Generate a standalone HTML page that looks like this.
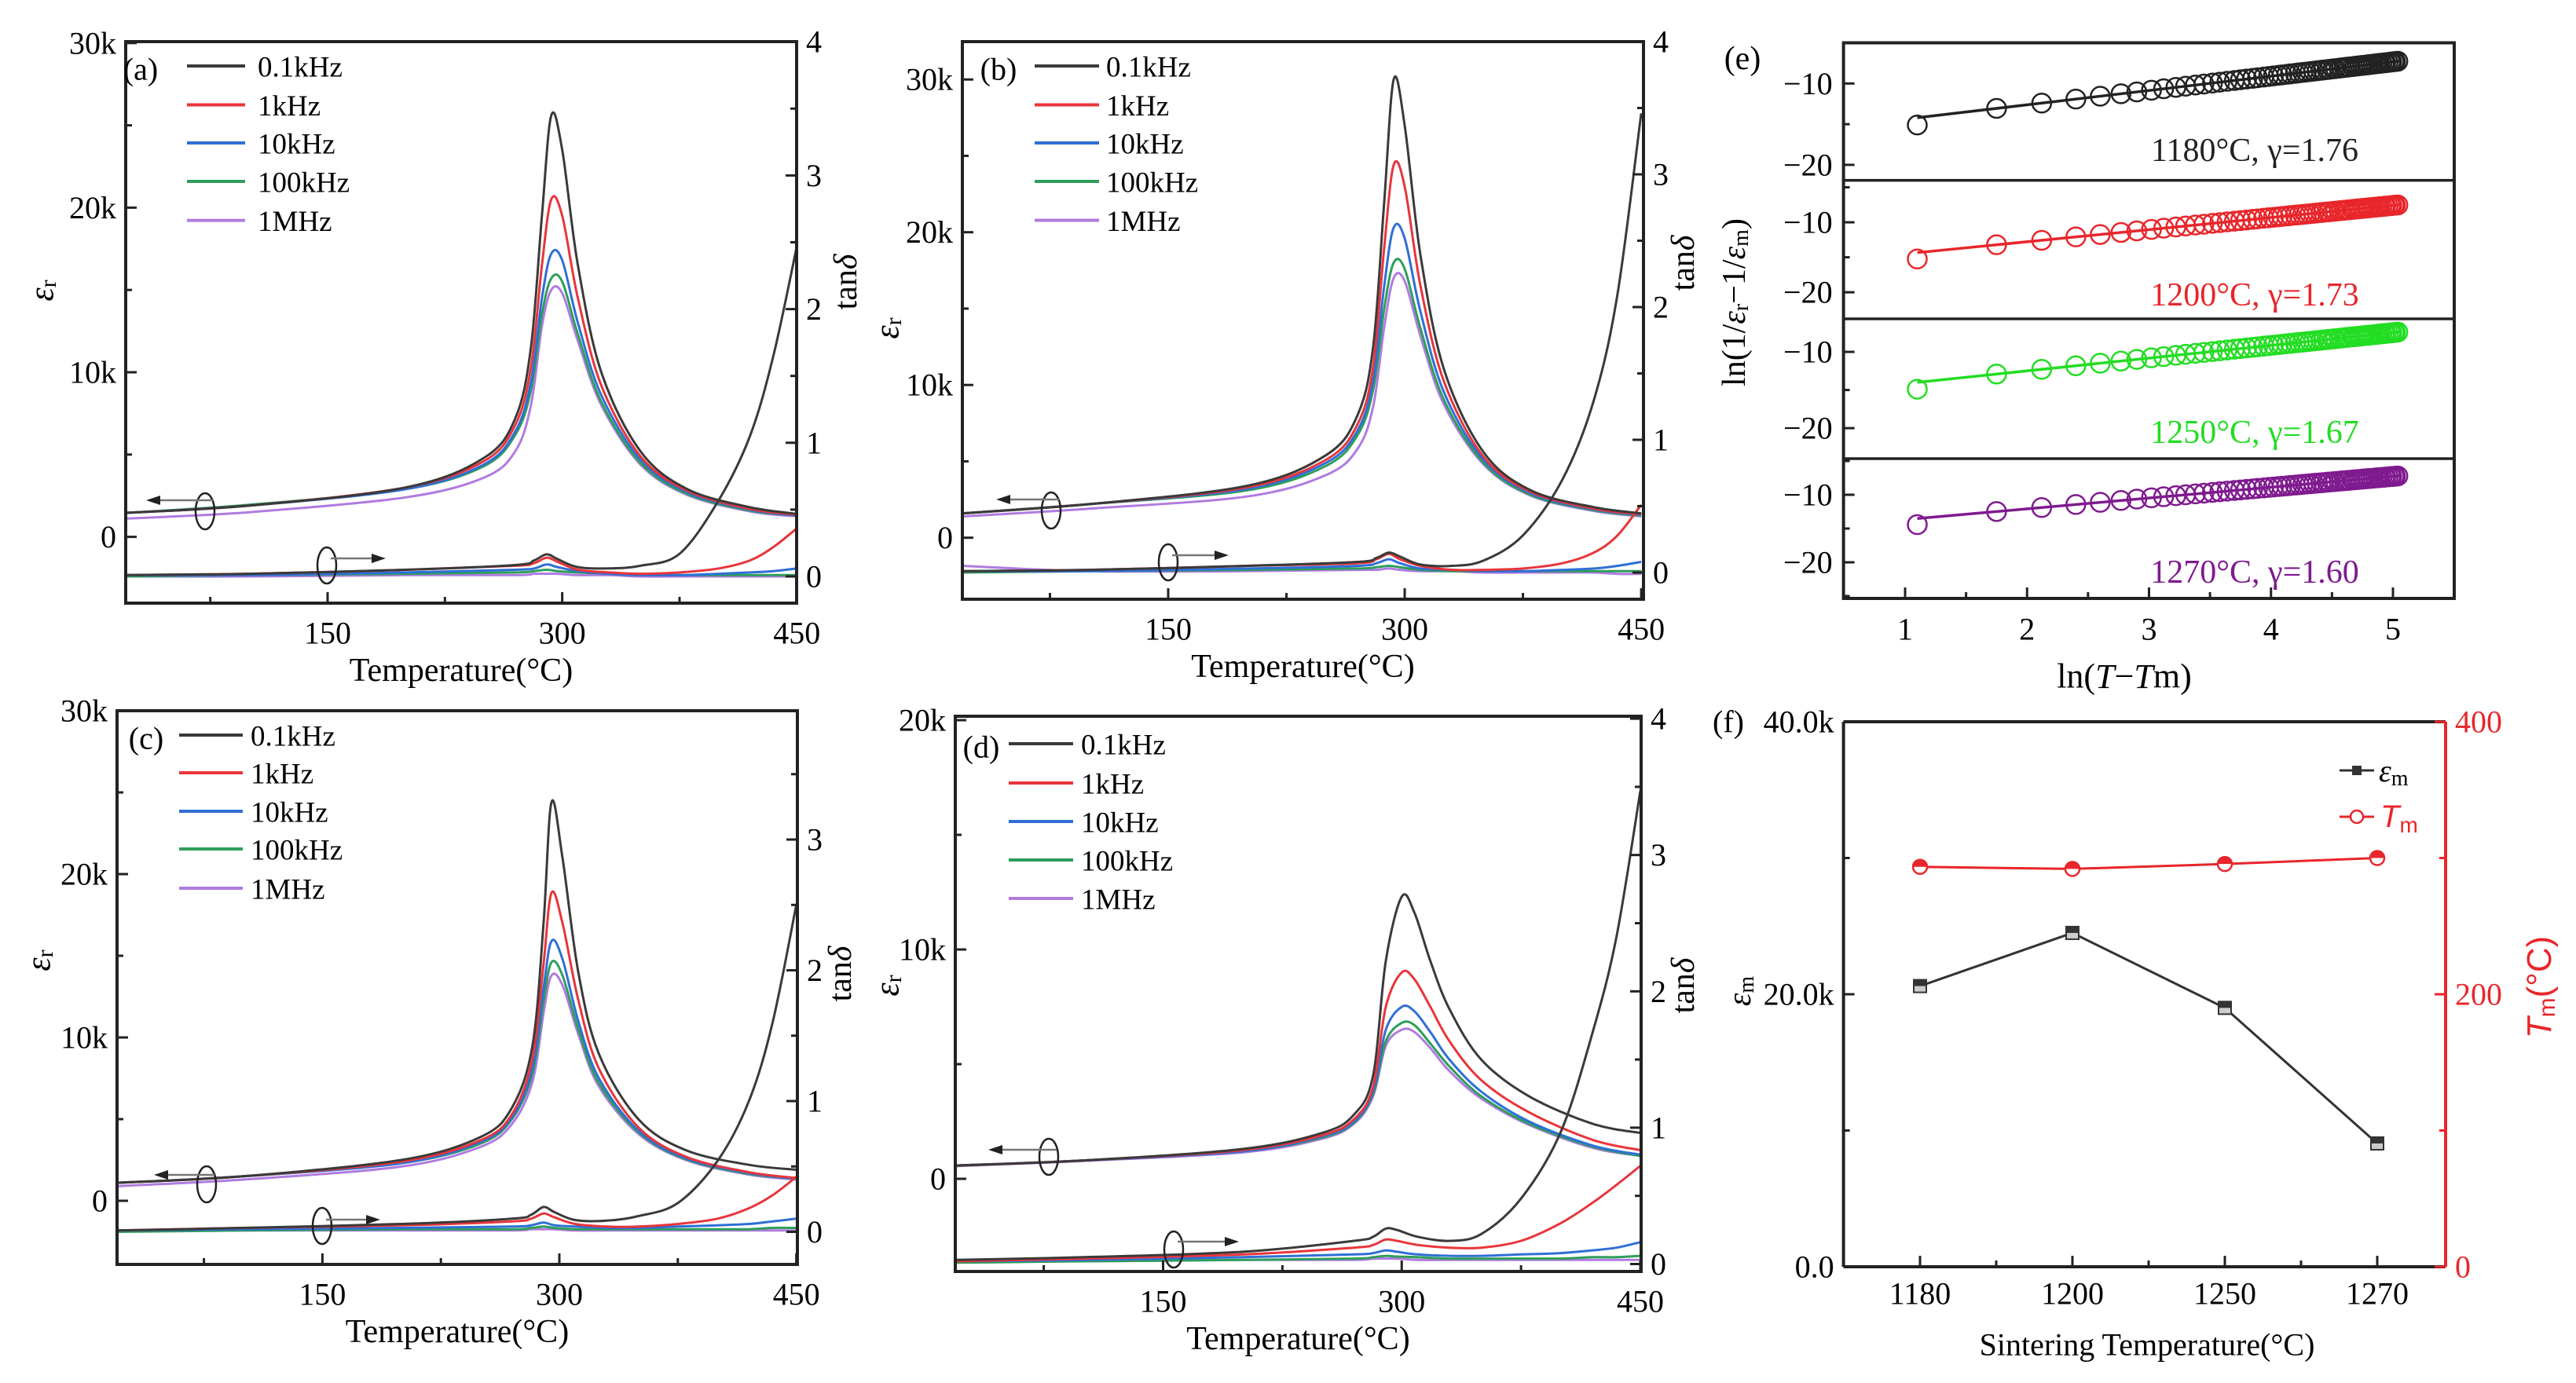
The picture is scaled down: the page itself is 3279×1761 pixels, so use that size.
<!DOCTYPE html>
<html><head><meta charset="utf-8"><style>
html,body{margin:0;padding:0;background:#fff}
svg{display:block;font-family:"Liberation Serif",serif}
</style></head><body>
<svg id="fig" xmlns="http://www.w3.org/2000/svg" width="3279" height="1761" viewBox="0 0 3279 1761"></svg>
<script>
// ---- data: panels a-d (eps in k, tan delta) ----
const freqLabels=["0.1kHz","1kHz","10kHz","100kHz","1MHz"];
const tempsA=[20,100,200,250,270,280,287,293,300,310,325,350,380,420,450];
const epsA=[[1.45,1.9,3.0,4.8,7.2,11.5,19.5,25.6,23.5,16.5,10,5.2,2.9,1.8,1.4],
[1.45,1.9,3.0,4.6,6.8,10.3,16.5,20.5,19.5,14.5,9.2,4.9,2.8,1.7,1.35],
[1.45,1.9,2.9,4.4,6.4,9.4,14.5,17.2,16.8,13,8.6,4.7,2.7,1.65,1.3],
[1.45,1.95,2.9,4.3,6.2,8.9,13.5,15.7,15.5,12.3,8.2,4.5,2.6,1.6,1.3],
[1.1,1.5,2.4,3.6,5.2,8.0,12.8,15.0,14.8,11.9,8.0,4.4,2.55,1.55,1.25]];
const tanTemps=[20,100,200,270,282,290,297,310,330,350,375,400,420,435,450];
const tanA=[[0.01,0.02,0.05,0.085,0.12,0.165,0.13,0.07,0.06,0.08,0.17,0.57,1.05,1.65,2.47],
[0.01,0.02,0.05,0.08,0.1,0.14,0.11,0.05,0.03,0.02,0.03,0.06,0.12,0.22,0.36],
[0.01,0.01,0.03,0.05,0.06,0.09,0.07,0.04,0.02,0.01,0.01,0.02,0.03,0.04,0.06],
[0,0.01,0.02,0.03,0.04,0.05,0.04,0.03,0.02,0.01,0.01,0.01,0.01,0.01,0.01],
[0,0,0.01,0.01,0.02,0.02,0.02,0.01,0.01,0,0,0,0,0,0]];
const tempsB=[20,100,200,250,270,280,287,293,300,310,325,350,380,420,450];
const epsB=[[1.6,2.2,3.4,5.4,8.0,12.5,22,30,27,18.5,11,5.6,3.1,2.0,1.6],
[1.6,2.2,3.3,5.1,7.4,11.2,19,24.4,23,16.5,10.2,5.3,3.0,1.9,1.55],
[1.6,2.2,3.2,4.9,7.0,10.3,16.5,20.3,19.6,14.8,9.5,5.1,2.9,1.85,1.5],
[1.6,2.2,3.1,4.7,6.7,9.7,15,18,17.6,13.7,9.0,4.9,2.8,1.8,1.45],
[1.4,1.9,2.7,4.1,5.8,8.6,13.8,17,16.8,13.2,8.7,4.8,2.75,1.75,1.4]];
const tanB=[[0.01,0.02,0.05,0.08,0.11,0.15,0.12,0.06,0.05,0.09,0.28,0.7,1.3,2.1,3.46],
[0.01,0.02,0.05,0.07,0.1,0.14,0.1,0.05,0.02,0.02,0.03,0.07,0.15,0.28,0.51],
[0.01,0.01,0.03,0.05,0.07,0.1,0.07,0.03,0.02,0.01,0.01,0.02,0.03,0.05,0.08],
[0,0.01,0.02,0.03,0.04,0.05,0.04,0.02,0.01,0.01,0.01,0.01,0.01,0.01,0.01],
[0.05,0.01,0.01,0.02,0.02,0.03,0.02,0.01,0.01,0,0,0,0,-0.01,-0.01]];
const tempsC=[20,100,200,250,270,283,290,295,302,312,325,350,380,420,450];
const epsC=[[1.1,1.5,2.5,3.9,5.7,9.5,17,24.4,21,14,9,5.0,3.1,2.2,1.9],
[1.1,1.5,2.4,3.7,5.3,8.7,14.5,18.85,17,12.3,8.1,4.5,2.7,1.75,1.4],
[1.1,1.5,2.3,3.6,5.1,8.1,13,15.9,14.8,11,7.5,4.3,2.6,1.7,1.35],
[1.1,1.5,2.3,3.5,5.0,7.8,12.2,14.6,13.8,10.5,7.2,4.2,2.55,1.65,1.35],
[0.9,1.3,2.1,3.3,4.7,7.3,11.5,13.8,13.2,10.2,7.0,4.1,2.5,1.6,1.3]];
const tanC=[[0.01,0.03,0.06,0.1,0.13,0.19,0.15,0.09,0.085,0.12,0.22,0.54,1.0,1.6,2.5],
[0.01,0.03,0.05,0.08,0.1,0.14,0.11,0.06,0.04,0.04,0.06,0.1,0.18,0.28,0.42],
[0.01,0.02,0.03,0.04,0.05,0.07,0.05,0.04,0.03,0.03,0.04,0.05,0.06,0.08,0.1],
[0,0.01,0.02,0.02,0.03,0.04,0.03,0.02,0.02,0.02,0.02,0.02,0.02,0.03,0.03],
[0.01,0.01,0.01,0.01,0.02,0.02,0.02,0.01,0.01,0.01,0.01,0.01,0.01,0.01,0.01]];
const tempsD=[20,100,200,250,270,282,290,300,308,318,330,350,380,420,450];
const epsD=[[0.58,0.8,1.3,2.0,2.8,4.5,9.5,12.3,11.6,9.5,7.4,5.2,3.6,2.4,2.0],
[0.58,0.8,1.25,1.9,2.6,4.0,7.5,9.0,8.7,7.5,6.0,4.3,2.9,1.7,1.25],
[0.58,0.8,1.2,1.85,2.5,3.8,6.5,7.5,7.3,6.4,5.2,3.8,2.5,1.45,1.05],
[0.58,0.8,1.2,1.8,2.45,3.7,6.0,6.8,6.7,5.9,4.9,3.6,2.4,1.4,1.0],
[0.55,0.78,1.15,1.75,2.4,3.6,5.8,6.5,6.4,5.7,4.7,3.5,2.35,1.35,1.0]];
const tanD=[[0.03,0.05,0.09,0.17,0.2,0.26,0.25,0.2,0.17,0.22,0.48,0.97,1.7,2.4,3.47],
[0.02,0.04,0.07,0.12,0.14,0.18,0.17,0.14,0.12,0.12,0.17,0.3,0.45,0.58,0.72],
[0.02,0.03,0.05,0.07,0.08,0.1,0.09,0.07,0.06,0.06,0.07,0.08,0.1,0.12,0.16],
[0.01,0.02,0.03,0.04,0.05,0.06,0.055,0.05,0.04,0.04,0.04,0.04,0.05,0.05,0.06],
[0.02,0.02,0.03,0.03,0.04,0.04,0.04,0.03,0.03,0.03,0.03,0.03,0.03,0.03,0.03]];
// ---- panel e ----
const lnX=[1.10,1.75,2.12,2.40,2.60,2.77,2.90,3.02,3.12,3.22,3.30,3.38,3.45,3.52,3.58,3.64,3.70,3.75,3.80,3.85,3.89,3.94,3.98,4.02,4.06,4.09,4.13,4.16,4.20,4.23,4.26,4.29,4.32,4.35,4.38,4.41,4.43,4.46,4.48,4.51,4.53,4.56,4.58,4.60,4.62,4.64,4.67,4.69,4.71,4.73,4.75,4.77,4.79,4.80,4.82,4.84,4.86,4.88,4.89,4.91,4.93,4.94,4.96,4.98,4.99,5.01,5.02,5.04];
const sinterLabels=["1180°C, γ=1.76","1200°C, γ=1.73","1250°C, γ=1.67","1270°C, γ=1.60"];
const gammas=[1.76,1.73,1.67,1.60];
const intercepts=[-16.14,-16.24,-15.83,-15.28];
// ---- panel f ----
const sinterCats=["1180","1200","1250","1270"];
const epsM=[20.6,24.5,19.0,9.05];
const tM=[293.5,292,295.6,300];

const svg=document.getElementById('fig');
const NS='http://www.w3.org/2000/svg';
function mk(tag,attrs,parent){const e=document.createElementNS(NS,tag);for(const k in attrs)e.setAttribute(k,attrs[k]);(parent||svg).appendChild(e);return e;}
function txt(s,x,y,size,attrs,parent){const e=mk('text',Object.assign({x:x,y:y,'font-size':size,'dominant-baseline':'central'},attrs||{}),parent);e.textContent=s;return e;}
function smooth(pts){let d='M'+pts[0][0].toFixed(1)+','+pts[0][1].toFixed(1);for(let i=0;i<pts.length-1;i++){const p0=pts[Math.max(0,i-1)],p1=pts[i],p2=pts[i+1],p3=pts[Math.min(pts.length-1,i+2)];const c1=[p1[0]+(p2[0]-p0[0])/6,p1[1]+(p2[1]-p0[1])/6],c2=[p2[0]-(p3[0]-p1[0])/6,p2[1]-(p3[1]-p1[1])/6];d+='C'+c1[0].toFixed(1)+','+c1[1].toFixed(1)+' '+c2[0].toFixed(1)+','+c2[1].toFixed(1)+' '+p2[0].toFixed(1)+','+p2[1].toFixed(1);}return d;}
const colors=['#3a3a3a','#e8353b','#2f6fd6','#2e9e5a','#b07be0'];

function panel(c){
  const g=mk('g',{});
  
  
  const X=t=>c.x150+(t-150)*c.xs, YL=v=>c.y0+v*c.ys*-1, YR=v=>c.r0-v*c.rs;
  const clip=mk('clipPath',{id:'clip'+c.id},g);mk('rect',{x:c.L,y:c.T,width:c.R-c.L,height:c.B-c.T},clip);
  const cg=mk('g',{'clip-path':'url(#clip'+c.id+')'},g);
  for(let s=4;s>=0;s--){
    const p=mk('path',{d:smooth(c.temps.map((t,i)=>[X(t),YL(c.eps[s][i])])),fill:'none',stroke:colors[s],'stroke-width':3},cg);
    
    
    const q=mk('path',{d:smooth(tanTemps.map((t,i)=>[X(t),YR(c.tan[s][i])])),fill:'none',stroke:colors[s],'stroke-width':3},cg);
    
    
  }
  const fr=mk('rect',{x:c.L,y:c.T,width:c.R-c.L,height:c.B-c.T,fill:'none',stroke:'#222','stroke-width':4},g);
  
  
  [75,150,225,300,375,450].forEach(t=>{const maj=t%150==0;mk('line',{x1:X(t),x2:X(t),y1:c.B,y2:c.B-(maj?14:8),stroke:'#222','stroke-width':3},g);
    if(maj){const l=txt(String(t),X(t),c.B+38,40,{'text-anchor':'middle'},g);}});
  for(let v=c.lmin;v<=c.lmax;v+=5){const y=YL(v);if(y<c.T-1||y>c.B+1)continue;const maj=v%10==0;mk('line',{x1:c.L,x2:c.L+(maj?14:8),y1:y,y2:y,stroke:'#222','stroke-width':3},g);
    if(maj){const l=txt(v==0?'0':v+'k',c.L-12,y,40,{'text-anchor':'end'},g);}}
  for(let v=0;v<=8;v++){const val=v/2,y=YR(val);if(y<c.T-1)continue;const maj=v%2==0;mk('line',{x1:c.R,x2:c.R-(maj?14:8),y1:y,y2:y,stroke:'#222','stroke-width':3},g);
    if(maj){const l=txt(String(val),c.R+12,y,40,{'text-anchor':'start'},g);}}
  const xt=txt('Temperature(°C)',(c.L+c.R)/2,c.B+86,42,{'text-anchor':'middle'},g);
  
  const el=mk('text',{x:c.ex,y:c.ey,'font-size':44,'font-style':'italic','text-anchor':'middle','dominant-baseline':'central',transform:'rotate(-90 '+c.ex+' '+c.ey+')'},g);
  el.innerHTML='ε<tspan font-size="30" dy="8" font-style="normal">r</tspan>';
  
  const tl=mk('text',{x:c.tx,y:c.ty,'font-size':42,'text-anchor':'middle','dominant-baseline':'central',transform:'rotate(-90 '+c.tx+' '+c.ty+')'},g);
  tl.innerHTML='tan<tspan font-style="italic">δ</tspan>';
  
  const lab=txt('('+c.id+')',c.lgLab,c.lgRows[0]+4,40,{'text-anchor':'middle'},g);
  
  freqLabels.forEach((f,i)=>{const lg=mk('g',{},g);
    mk('line',{x1:c.lg1,x2:c.lg2,y1:c.lgRows[i],y2:c.lgRows[i],stroke:colors[i],'stroke-width':4},lg);txt(f,c.lgT,c.lgRows[i]+2,37,{},lg);});
  [[c.e1,-1],[c.e2,1]].forEach(([e,dir])=>{const a=mk('g',{},g);
    mk('ellipse',{cx:e[0],cy:e[1],rx:12,ry:23,fill:'none',stroke:'#222','stroke-width':2.5},a);
    mk('line',{x1:e[0]+(dir<0?10:5),x2:e[2]-dir*14,y1:e[3],y2:e[3],stroke:'#777','stroke-width':2.5},a);
    mk('polygon',{points:[e[2],e[3],e[2]-dir*18,e[3]-6,e[2]-dir*18,e[3]+6].join(','),fill:'#222'},a);});
}
panel({id:'a',L:160,R:1014,T:53,B:768,x150:417,xs:1.991,y0:683.6,ys:20.96,r0:734,rs:170.2,lmin:-5,lmax:30,temps:tempsA,eps:epsA,tan:tanA,
  ex:53,ey:370,tx:1077,ty:359,lgLab:179,lg1:238,lg2:312,lgT:328,lgRows:[84,133.5,182,231,280.6],e1:[261,651,186,637],e2:[416,720,491,711]});
panel({id:'b',L:1225,R:2092,T:53,B:763,x150:1487,xs:2.007,y0:684.7,ys:19.45,r0:729,rs:169,lmin:-5,lmax:30,temps:tempsB,eps:epsB,tan:tanB,
  ex:1129,ey:418,tx:2143,ty:335,lgLab:1271,lg1:1317,lg2:1399,lgT:1408,lgRows:[84,133.5,182,231,280.5],e1:[1338,650,1268,636],e2:[1487,716,1564,707]});
panel({id:'c',L:149,R:1015,T:905,B:1610,x150:410.4,xs:2.0107,y0:1529,ys:20.8,r0:1568.5,rs:166.5,lmin:-5,lmax:30,temps:tempsC,eps:epsC,tan:tanC,
  ex:49,ey:1223,tx:1070,ty:1240,lgLab:186,lg1:228,lg2:309,lgT:319,lgRows:[936,984,1033,1081,1131],e1:[263,1508,196,1496],e2:[410,1561,484,1553]});
panel({id:'d',L:1216,R:2089,T:912,B:1619,x150:1480.5,xs:2.025,y0:1501,ys:29.2,r0:1609.5,rs:173.6,lmin:0,lmax:20,temps:tempsD,eps:epsD,tan:tanD,
  ex:1129,ey:1255,tx:2143,ty:1255,lgLab:1249,lg1:1284,lg2:1366,lgT:1376,lgRows:[947,997,1046,1095,1144],e1:[1335,1473,1258,1464],e2:[1494,1591,1577,1581]});

// ---- panel e ----
(function(){
  const L=2346.6,R=3124,T=54.5,B=762;
  const subs=[[54.5,229.6,-5.0,-21.9],[229.6,406,-4.0,-23.8],[406,584,-5.67,-24.0],[584,762,-4.65,-25.35]];
  const ecol=['#222','#e8262b','#22dd22','#7f1a8f'];
  const X=v=>2425+(v-1)*155.25;
  const g=mk('g',{});
  subs.forEach((s,k)=>{const Y=v=>s[0]+(s[2]-v)/(s[2]-s[3])*(s[1]-s[0]);
    const sg=mk('g',{},g);
    const fl=mk('line',{x1:X(1.1),x2:X(5.05),y1:Y(gammas[k]*1.1+intercepts[k]),y2:Y(gammas[k]*5.05+intercepts[k]),stroke:ecol[k],'stroke-width':3.5},sg);
    
    lnX.forEach((x,i)=>{const yv=gammas[k]*x+intercepts[k]-(i==0?0.9:0);const c=mk('circle',{cx:X(x),cy:Y(yv),r:12,fill:'none',stroke:ecol[k],'stroke-width':2.5},sg);
      });
    [-5,-10,-15,-20,-25].forEach(v=>{const y=Y(v);if(y<s[0]+2||y>s[1]-2)return;const maj=v%10==0;mk('line',{x1:L,x2:L+(maj?14:8),y1:y,y2:y,stroke:'#222','stroke-width':3},sg);
      if(maj){const l=txt('−'+(-v),L-14,y,40,{'text-anchor':'end'},sg);}});
    const lb=txt(sinterLabels[k],2870,[192,376,551,729][k],42,{'text-anchor':'middle',fill:ecol[k]},sg);
    
    if(k>0)mk('line',{x1:L,x2:R,y1:s[0],y2:s[0],stroke:'#222','stroke-width':3.5},sg);
  });
  mk('rect',{x:L,y:T,width:R-L,height:B-T,fill:'none',stroke:'#222','stroke-width':4},g);
  for(let v=1;v<=5;v+=0.5){const maj=v%1==0;mk('line',{x1:X(v),x2:X(v),y1:B,y2:B-(maj?14:8),stroke:'#222','stroke-width':3},g);
    if(maj){const l=txt(String(v),X(v),801,40,{'text-anchor':'middle'},g);}}
  const xt=mk('text',{x:2704,y:861,'font-size':44,'text-anchor':'middle','dominant-baseline':'central'},g);
  xt.innerHTML='ln(<tspan font-style="italic">T</tspan>−<tspan font-style="italic">T</tspan>m)';
  
  const yt=mk('text',{x:2208,y:385,'font-size':42,'text-anchor':'middle','dominant-baseline':'central',transform:'rotate(-90 2208 385)'},g);
  yt.innerHTML='ln(1/<tspan font-style="italic">ε</tspan><tspan font-size="28" dy="8">r</tspan><tspan dy="-8">−1/</tspan><tspan font-style="italic">ε</tspan><tspan font-size="28" dy="8">m</tspan><tspan dy="-8">)</tspan>';
  
  const pl=txt('(e)',2218,75,42,{'text-anchor':'middle'},g);
})();

// ---- panel f ----
(function(){
  const L=2346.6,R=3113,T=919,B=1613,red='#e8262b';
  const X=i=>2444+i*194, YL=v=>B-v/40*(B-T), YR=v=>B-v/400*(B-T);
  const g=mk('g',{});
  mk('line',{x1:L,x2:R,y1:T,y2:T,stroke:'#222','stroke-width':4},g);
  mk('line',{x1:L,x2:R,y1:B,y2:B,stroke:'#222','stroke-width':4},g);
  mk('line',{x1:L,x2:L,y1:T,y2:B,stroke:'#222','stroke-width':4},g);
  mk('line',{x1:R,x2:R,y1:T,y2:B,stroke:red,'stroke-width':4},g);
  for(let i=0;i<4;i++){mk('line',{x1:X(i),x2:X(i),y1:B,y2:B-14,stroke:'#222','stroke-width':3},g);
    if(i<3)mk('line',{x1:X(i+0.5),x2:X(i+0.5),y1:B,y2:B-8,stroke:'#222','stroke-width':3},g);
    const l=txt(sinterCats[i],X(i),1647,40,{'text-anchor':'middle'},g);}
  [0,10,20,30,40].forEach(v=>{const maj=v%20==0;mk('line',{x1:L,x2:L+(maj?14:8),y1:YL(v),y2:YL(v),stroke:'#222','stroke-width':3},g);
    if(maj){const l=txt(v==0?'0.0':v.toFixed(1)+'k',L-12,YL(v),40,{'text-anchor':'end'},g);}});
  [0,100,200,300,400].forEach(v=>{const maj=v%200==0;mk('line',{x1:R,x2:R-(maj?14:8),y1:YR(v),y2:YR(v),stroke:red,'stroke-width':3},g);
    if(maj){const l=txt(String(v),R+12,YR(v),40,{'text-anchor':'start',fill:red},g);}});
  const le=mk('polyline',{points:epsM.map((v,i)=>X(i)+','+YL(v)).join(' '),fill:'none',stroke:'#333','stroke-width':3},g);
  
  epsM.forEach((v,i)=>{const m=mk('rect',{x:X(i)-8,y:YL(v)-8,width:16,height:16,fill:'#ccc',stroke:'#333','stroke-width':2},g);
    mk('rect',{x:X(i)-7,y:YL(v)-8,width:14,height:8,fill:'#333'},g);});
  const lt=mk('polyline',{points:tM.map((v,i)=>X(i)+','+YR(v)).join(' '),fill:'none',stroke:red,'stroke-width':3},g);
  
  tM.forEach((v,i)=>{const m=mk('circle',{cx:X(i),cy:YR(v),r:9,fill:'#fff',stroke:red,'stroke-width':2.5},g);
    mk('path',{d:'M'+(X(i)-9)+','+YR(v)+' a9,9 0 0 1 18,0z',fill:red},g);});
  const l1=mk('g',{},g);
  mk('line',{x1:2978,x2:3022,y1:981,y2:981,stroke:'#333','stroke-width':3},l1);mk('rect',{x:2994,y:975,width:12,height:12,fill:'#333'},l1);
  const t1=mk('text',{x:3028,y:981,'font-size':40,'dominant-baseline':'central'},l1);t1.innerHTML='<tspan font-style="italic">ε</tspan><tspan font-size="28" dy="10">m</tspan>';
  const l2=mk('g',{},g);
  mk('line',{x1:2978,x2:3022,y1:1040,y2:1040,stroke:red,'stroke-width':3},l2);mk('circle',{cx:3000,cy:1040,r:8,fill:'#fff',stroke:red,'stroke-width':2.5},l2);
  const t2=mk('text',{x:3030,y:1040,'font-size':40,'dominant-baseline':'central',fill:red,'font-family':'Liberation Sans, sans-serif'},l2);t2.innerHTML='<tspan font-style="italic">T</tspan><tspan font-size="28" dy="10">m</tspan>';
  const xt=txt('Sintering Temperature(°C)',2733,1712,40,{'text-anchor':'middle'},g);
  const yl=mk('text',{x:2215,y:1262,'font-size':42,'text-anchor':'middle','dominant-baseline':'central',transform:'rotate(-90 2215 1262)'},g);
  yl.innerHTML='<tspan font-style="italic">ε</tspan><tspan font-size="28" dy="8">m</tspan>';
  const yr=mk('text',{x:3232,y:1257,'font-size':44,'text-anchor':'middle','dominant-baseline':'central',fill:red,'font-family':'Liberation Sans, sans-serif',transform:'rotate(-90 3232 1257)'},g);
  yr.innerHTML='<tspan font-style="italic">T</tspan><tspan font-size="30" dy="10">m</tspan><tspan dy="-10">(°C)</tspan>';
  const pl=txt('(f)',2200,919,40,{'text-anchor':'middle'},g);
})();
</script>
</body></html>
